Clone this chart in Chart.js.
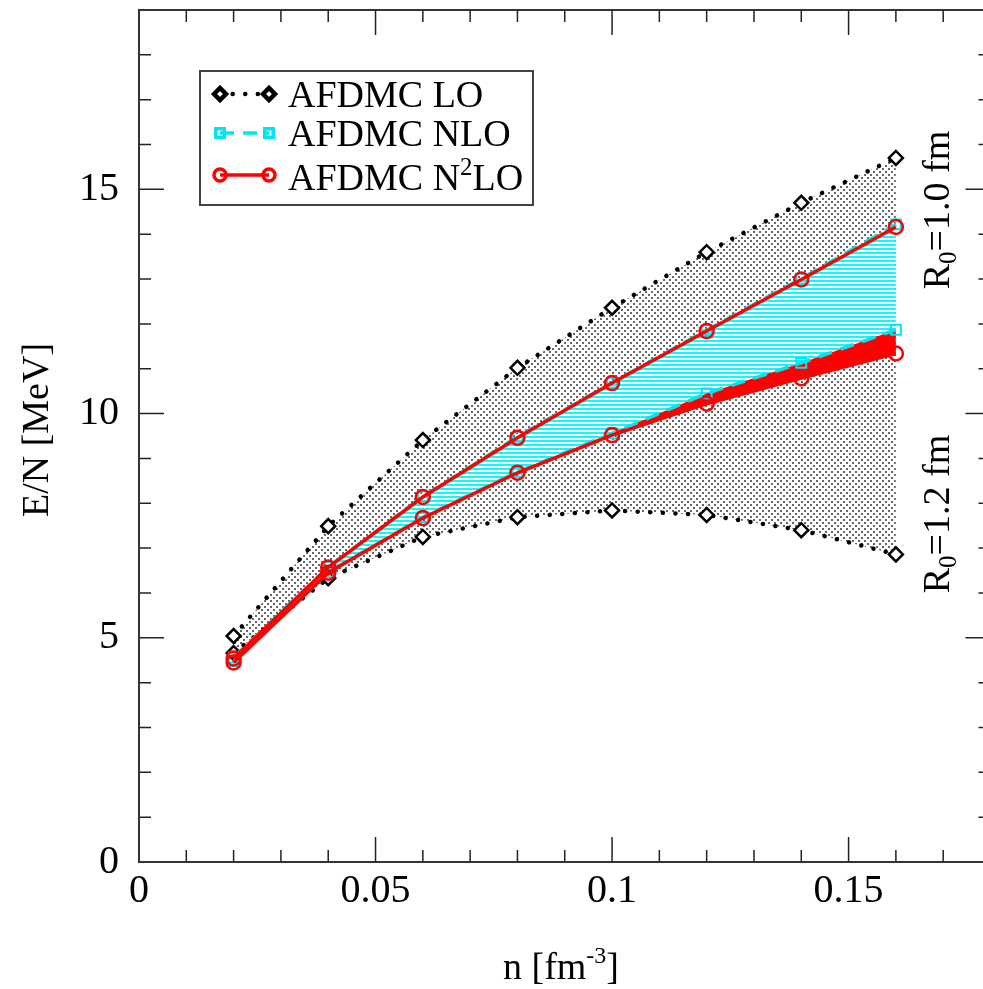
<!DOCTYPE html>
<html>
<head>
<meta charset="utf-8">
<script src="https://cdn.jsdelivr.net/npm/chart.js@4.4.0/dist/chart.umd.min.js"></script>
<style>
  html, body { margin: 0; padding: 0; background: #fff; overflow: hidden; }
  canvas { display: block; }
</style>
</head>
<body>
<canvas id="chart" width="1000" height="989"></canvas>
<script>
// densities n [fm^-3]
const density = [0.02, 0.04, 0.06, 0.08, 0.10, 0.12, 0.14, 0.16];

// E/N [MeV], upper edge = R0 1.0 fm, lower edge = R0 1.2 fm
const loUpper   = [5.04, 7.49, 9.41, 11.02, 12.36, 13.60, 14.70, 15.70];
const loLower   = [4.66, 6.33, 7.25, 7.69, 7.84, 7.74, 7.40, 6.86];
const nloUpper  = [4.56, 6.58, 8.15, 9.48, 10.69, 11.86, 13.01, 14.22];
const nloLower  = [4.48, 6.46, 7.69, 8.70, 9.56, 10.45, 11.13, 11.87];
const n2loUpper = [4.54, 6.57, 8.14, 9.46, 10.68, 11.84, 12.99, 14.16];
const n2loLower = [4.45, 6.45, 7.67, 8.68, 9.52, 10.22, 10.79, 11.34];

const xTicks = [0, 0.05, 0.1, 0.15];
const yTicks = [0, 5, 10, 15];
const legendLabels = ['AFDMC LO', 'AFDMC NLO', 'AFDMC N2LO'];

const SERIF = '"Liberation Serif", "DejaVu Serif", serif';
const ctx = document.getElementById('chart').getContext('2d');

function stipplePattern() {
  const c = document.createElement('canvas');
  c.width = 6; c.height = 6;
  const g = c.getContext('2d');
  g.fillStyle = 'rgba(0,0,0,0.6)';
  g.fillRect(0, 0, 2, 2);
  g.fillRect(3, 3, 2, 2);
  return ctx.createPattern(c, 'repeat');
}

function stripePattern() {
  const c = document.createElement('canvas');
  c.width = 4; c.height = 4;
  const g = c.getContext('2d');
  g.fillStyle = '#fff';
  g.fillRect(0, 0, 4, 4);
  g.fillStyle = '#00ffff';
  g.fillRect(0, 0, 4, 2);
  return ctx.createPattern(c, 'repeat');
}

const pts = ys => ys.map((y, i) => ({ x: density[i], y }));

const loStyle = {
  borderColor: '#000', borderWidth: 4.5, borderDash: [0.1, 12.5], borderCapStyle: 'round',
  pointStyle: 'rectRot', pointRadius: 7, pointBorderWidth: 2.5,
  pointBorderColor: '#000', pointBackgroundColor: '#fff'
};
const nloStyle = {
  borderColor: '#00e5ee', borderWidth: 3.5, borderDash: [14, 9],
  pointStyle: 'rect', pointRadius: 7, pointBorderWidth: 2,
  pointBorderColor: '#00e5ee', pointBackgroundColor: 'rgba(0,0,0,0)'
};
const n2loStyle = {
  borderColor: '#ff0000', borderWidth: 3.5,
  pointStyle: 'circle', pointRadius: 7, pointBorderWidth: 2.5,
  pointBorderColor: '#ff0000', pointBackgroundColor: 'rgba(0,0,0,0)'
};

// frame, inward ticks, titles, legend and side labels
const decorations = {
  id: 'decorations',
  afterDraw(chart) {
    const { ctx: c, chartArea: a, scales: { x, y } } = chart;
    c.save();
    c.strokeStyle = '#222';
    c.lineWidth = 1.5;
    c.beginPath();
    for (let i = 0; i <= 18; i++) {
      const px = x.getPixelForValue(i / 100);
      const len = i % 5 === 0 ? 25 : 12;
      c.moveTo(px, a.bottom); c.lineTo(px, a.bottom - len);
      c.moveTo(px, a.top); c.lineTo(px, a.top + len);
    }
    for (let i = 0; i <= 19; i++) {
      const py = y.getPixelForValue(i);
      const len = i % 5 === 0 ? 25 : 12;
      c.moveTo(a.left, py); c.lineTo(a.left + len, py);
      c.moveTo(a.right, py); c.lineTo(a.right - len, py);
    }
    c.stroke();
    c.lineWidth = 2;
    c.strokeStyle = '#333';
    c.strokeRect(a.left, a.top, a.right - a.left, a.bottom - a.top);

    c.fillStyle = '#000';
    c.textBaseline = 'alphabetic';

    // y title
    c.save();
    c.translate(48, 430);
    c.rotate(-Math.PI / 2);
    c.font = `38px ${SERIF}`;
    c.textAlign = 'center';
    c.fillText('E/N [MeV]', 0, 0);
    c.restore();

    // x title with superscript
    const big = `38px ${SERIF}`, small = `24px ${SERIF}`;
    c.font = big;
    const w1 = c.measureText('n [fm').width, w3 = c.measureText(']').width;
    c.font = small;
    const w2 = c.measureText('-3').width;
    let sx = 561 - (w1 + w2 + w3) / 2;
    c.textAlign = 'left';
    c.font = big; c.fillText('n [fm', sx, 979); sx += w1;
    c.font = small; c.fillText('-3', sx, 963); sx += w2;
    c.font = big; c.fillText(']', sx, 979);

    // rotated R0 labels
    const sideLabel = (text, cx, cy) => {
      c.save();
      c.translate(cx, cy);
      c.rotate(-Math.PI / 2);
      c.font = big;
      const wa = c.measureText('R').width;
      const wc = c.measureText(text).width;
      c.font = `25px ${SERIF}`;
      const wb = c.measureText('0').width;
      let tx = -(wa + wb + wc) / 2;
      c.font = big; c.fillText('R', tx, 13); tx += wa;
      c.font = `25px ${SERIF}`; c.fillText('0', tx, 20); tx += wb;
      c.font = big; c.fillText(text, tx, 13);
      c.restore();
    };
    sideLabel('=1.0 fm', 936, 210);
    sideLabel('=1.2 fm', 936, 514);

    // legend
    c.fillStyle = '#fff';
    c.fillRect(200, 71, 333, 134);
    c.strokeStyle = '#444';
    c.lineWidth = 2;
    c.strokeRect(200, 71, 333, 134);
    const styles = [loStyle, nloStyle, n2loStyle];
    const rows = [94, 133, 175];
    const bases = [107, 146, 190];
    styles.forEach((s, i) => {
      const ry = rows[i];
      c.save();
      c.strokeStyle = s.borderColor;
      c.lineWidth = s.borderWidth;
      c.lineCap = s.borderCapStyle || 'butt';
      c.setLineDash(s.borderDash || []);
      c.beginPath();
      c.moveTo(220, ry); c.lineTo(269, ry);
      c.stroke();
      c.setLineDash([]);
      c.strokeStyle = s.pointBorderColor;
      c.fillStyle = s.pointBackgroundColor;
      [220, 269].forEach(mx => {
        Chart.helpers.drawPoint(c, {
          pointStyle: s.pointStyle, radius: s.pointRadius - 1,
          borderWidth: s.pointBorderWidth, rotation: 0
        }, mx, ry);
      });
      c.restore();
      c.fillStyle = '#000';
      c.font = `38px ${SERIF}`;
      const label = legendLabels[i];
      if (label.endsWith('N2LO')) {
        let lx = 288;
        const head = label.slice(0, -3);
        c.fillText(head, lx, bases[i]); lx += c.measureText(head).width;
        c.font = `25px ${SERIF}`;
        c.fillText('2', lx, bases[i] - 15); lx += c.measureText('2').width;
        c.font = `38px ${SERIF}`;
        c.fillText('LO', lx, bases[i]);
      } else {
        c.fillText(label, 288, bases[i]);
      }
    });
    c.restore();
  }
};

new Chart(ctx, {
  type: 'line',
  data: {
    datasets: [
      { label: 'LO upper', data: pts(loUpper), ...loStyle, fill: 1, backgroundColor: stipplePattern(), order: 5 },
      { label: 'LO lower', data: pts(loLower), ...loStyle, fill: false, order: 4 },
      { label: 'NLO upper', data: pts(nloUpper), ...nloStyle, fill: 3, backgroundColor: stripePattern(), order: 3 },
      { label: 'NLO lower', data: pts(nloLower), ...nloStyle, fill: false, order: 2 },
      { label: 'N2LO upper', data: pts(n2loUpper), ...n2loStyle, fill: false, order: 1 },
      { label: 'N2LO lower', data: pts(n2loLower), ...n2loStyle, fill: 3, backgroundColor: '#ff0000', order: 0 }
    ]
  },
  options: {
    responsive: false,
    animation: false,
    devicePixelRatio: 1,
    events: [],
    layout: { padding: { top: 10, right: 9, left: 0, bottom: 0 } },
    plugins: {
      legend: { display: false },
      tooltip: { enabled: false },
      filler: { drawTime: 'beforeDatasetsDraw' }
    },
    scales: {
      x: {
        type: 'linear', min: 0, max: 0.18,
        grid: { display: false }, border: { display: false },
        afterFit: s => { s.height = 127; s.paddingLeft = 0; s.paddingRight = 0; },
        afterBuildTicks: s => { s.ticks = xTicks.map(v => ({ value: v })); },
        ticks: {
          color: '#000', padding: -3, maxRotation: 0,
          font: { family: SERIF, size: 40 },
          callback: v => String(Math.round(v * 100) / 100)
        }
      },
      y: {
        type: 'linear', min: 0, max: 19,
        grid: { display: false }, border: { display: false },
        afterFit: s => { s.width = 139; s.paddingTop = 0; s.paddingBottom = 0; },
        afterBuildTicks: s => { s.ticks = yTicks.map(v => ({ value: v })); },
        ticks: {
          color: '#000', padding: 12,
          font: { family: SERIF, size: 40 },
          callback: v => String(v)
        }
      }
    }
  },
  plugins: [decorations]
});
</script>
</body>
</html>
